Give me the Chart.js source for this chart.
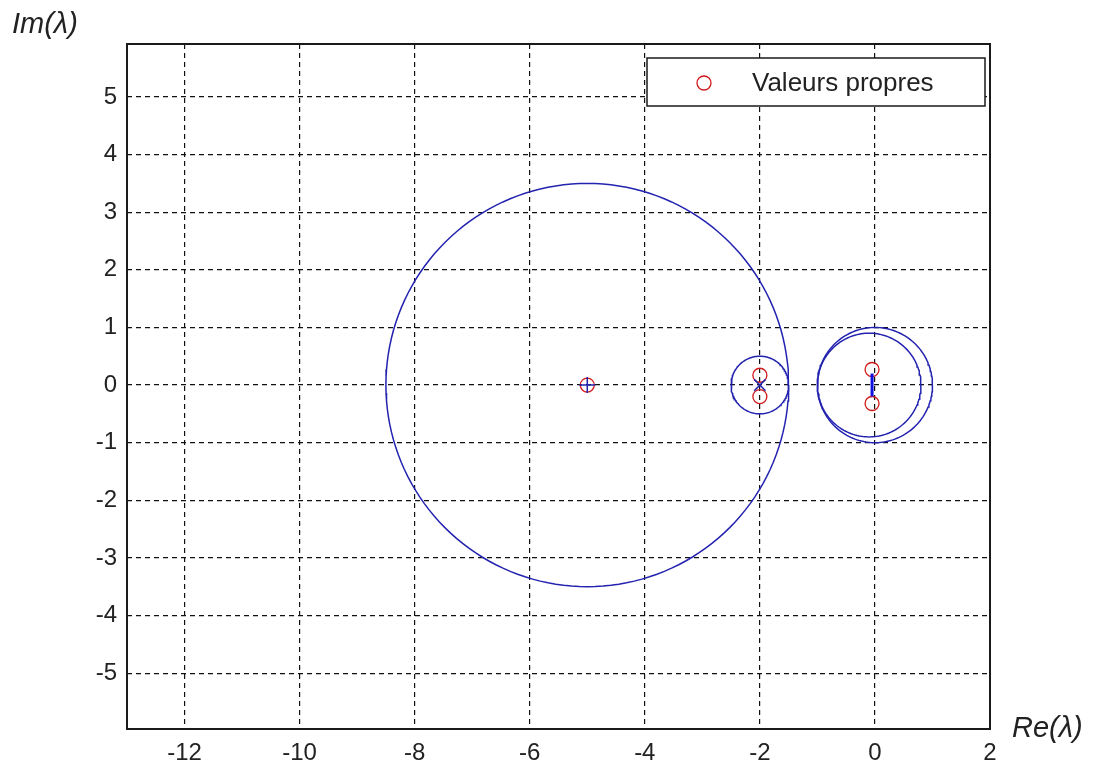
<!DOCTYPE html>
<html>
<head>
<meta charset="utf-8">
<script src="https://cdn.jsdelivr.net/npm/chart.js@4.4.1/dist/chart.umd.min.js"></script>
<style>
  body { margin: 0; background: #fff; }
  canvas { display: block; }
</style>
</head>
<body>
<canvas id="plan" width="1097" height="767"></canvas>
<script>
// graduations des axes
const xTicks = [-12, -10, -8, -6, -4, -2, 0, 2];
const yTicks = [-5, -4, -3, -2, -1, 0, 1, 2, 3, 4, 5];

// disques de Gershgorin : centre et rayon
const disqueRe = [-5, -2, 0, -0.1];
const disqueIm = [0, 0, 0, 0];
const disqueRayon = [3.5, 0.5, 1.0, 0.9];

// centres marqués
const centreRe = [-5, -2];
const centreIm = [0, 0];
const centreStyle = ['cross', 'crossRot'];

// petit segment bleu près de 0
const segRe = [-0.05, -0.05];
const segIm = [0.2, -0.2];

// valeurs propres
const vpRe = [-5, -2, -2, -0.05, -0.05];
const vpIm = [0, 0.17, -0.2, 0.27, -0.32];

const BLEU = '#2323b0';
const ROUGE = '#d01a1a';

function cercle(cx, cy, r) {
    const pts = [];
    for (let i = 0; i <= 160; i++) {
        const t = i / 160 * 2 * Math.PI;
        pts.push({ x: cx + r * Math.cos(t), y: cy + r * Math.sin(t) });
    }
    return pts;
}

const datasets = [];
disqueRe.forEach((re, i) => {
    datasets.push({
        data: cercle(re, disqueIm[i], disqueRayon[i]),
        showLine: true,
        borderColor: BLEU,
        borderWidth: 1.5,
        pointRadius: 0,
        tension: 0
    });
});
datasets.push({
    data: segRe.map((x, i) => ({ x: x, y: segIm[i] })),
    showLine: true,
    borderColor: '#1010e0',
    borderWidth: 3,
    pointRadius: 0
});
datasets.push({
    data: centreRe.map((x, i) => ({ x: x, y: centreIm[i] })),
    pointStyle: centreStyle,
    pointRadius: 8,
    borderColor: BLEU,
    borderWidth: 1.5,
    backgroundColor: 'transparent'
});
datasets.push({
    data: vpRe.map((x, i) => ({ x: x, y: vpIm[i] })),
    pointStyle: 'circle',
    pointRadius: 7,
    borderColor: ROUGE,
    borderWidth: 1.3,
    backgroundColor: 'transparent'
});

const police = '"Liberation Sans", Arial, sans-serif';

const cadre = {
    id: 'cadre',
    afterDatasetsDraw(chart) {
        const { ctx, chartArea: a } = chart;
        ctx.save();
        ctx.strokeStyle = '#1a1a1a';
        ctx.lineWidth = 2;
        ctx.strokeRect(a.left, a.top, a.right - a.left, a.bottom - a.top);
        ctx.restore();
    },
    afterDraw(chart) {
        const ctx = chart.ctx;
        ctx.save();
        // légende
        ctx.fillStyle = '#fff';
        ctx.fillRect(647, 58, 338, 48);
        ctx.strokeStyle = '#1a1a1a';
        ctx.lineWidth = 1.5;
        ctx.strokeRect(647, 58, 338, 48);
        ctx.beginPath();
        ctx.arc(704, 83, 7, 0, 2 * Math.PI);
        ctx.strokeStyle = ROUGE;
        ctx.lineWidth = 1.3;
        ctx.stroke();
        ctx.fillStyle = '#222';
        ctx.font = '26px ' + police;
        ctx.textBaseline = 'middle';
        ctx.textAlign = 'left';
        ctx.fillText('Valeurs propres', 752, 84);
        // titres des axes
        ctx.font = 'italic 29px ' + police;
        ctx.fillText('Im(λ)', 12, 25);
        ctx.fillText('Re(λ)', 1012, 729);
        ctx.restore();
    }
};

new Chart(document.getElementById('plan'), {
    type: 'scatter',
    data: { datasets: datasets },
    plugins: [cadre],
    options: {
        responsive: false,
        animation: false,
        layout: { padding: { left: 0, top: 44, right: 107, bottom: 0 } },
        plugins: {
            legend: { display: false },
            tooltip: { enabled: false }
        },
        scales: {
            x: {
                type: 'linear',
                min: -13,
                max: 2,
                afterBuildTicks: s => { s.ticks = xTicks.map(v => ({ value: v })); },
                afterFit: s => { s.height = 38; },
                grid: { color: '#111', lineWidth: 1.2, drawTicks: false },
                border: { display: false, dash: [5, 4] },
                ticks: {
                    padding: 10,
                    color: '#222',
                    font: { family: police, size: 24 },
                    maxRotation: 0
                }
            },
            y: {
                type: 'linear',
                min: -5.97,
                max: 5.92,
                afterBuildTicks: s => { s.ticks = yTicks.map(v => ({ value: v })); },
                afterFit: s => { s.width = 127; },
                grid: { color: '#111', lineWidth: 1.2, drawTicks: false },
                border: { display: false, dash: [5, 4] },
                ticks: {
                    padding: 10,
                    color: '#222',
                    font: { family: police, size: 24 }
                }
            }
        }
    }
});
</script>
</body>
</html>
